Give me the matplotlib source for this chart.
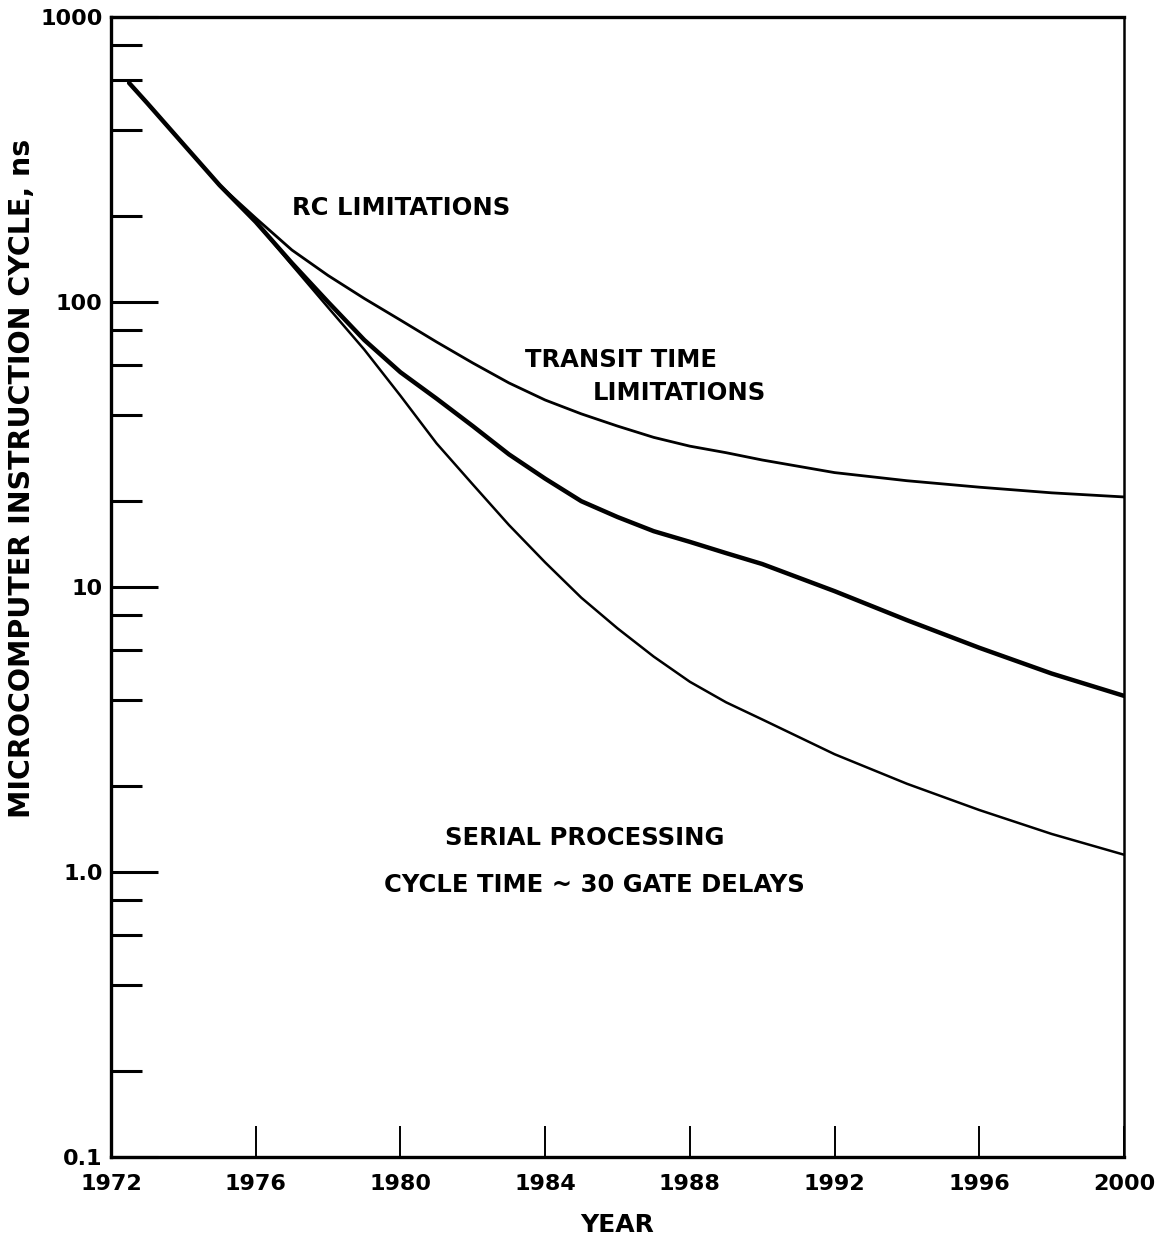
import numpy as np
import matplotlib
matplotlib.use("Agg")
import matplotlib.pyplot as plt
from matplotlib.ticker import FixedLocator, NullFormatter

# Instruction cycle time (ns) versus year for three limiting regimes
years = [1972.5, 1973, 1974, 1975, 1976, 1977, 1978, 1979, 1980, 1981, 1982,
         1983, 1984, 1985, 1986, 1987, 1988, 1989, 1990, 1992, 1994, 1996,
         1998, 2000]
rc_transit = [587, 499, 358, 257, 197, 152.2, 123.9, 102.9, 86.4, 72.4, 61.1,
              52.0, 45.3, 40.5, 36.7, 33.5, 31.2, 29.6, 27.9, 25.2, 23.6,
              22.4, 21.4, 20.7]
intermediate = [587, 499, 358, 257, 191, 137.0, 100, 73.6, 56.7, 45.8, 36.7,
                29.2, 24.0, 20.0, 17.6, 15.7, 14.4, 13.15, 12.04, 9.67, 7.65,
                6.12, 4.97, 4.15]
serial = [587, 499, 358, 257, 191, 134.9, 95.7, 68.1, 46.9, 31.9, 22.9,
          16.5, 12.2, 9.17, 7.16, 5.70, 4.65, 3.94, 3.43, 2.59, 2.04, 1.65,
          1.36, 1.15]

x_ticks = [1972, 1976, 1980, 1984, 1988, 1992, 1996, 2000]
y_major = [0.1, 1.0, 10, 100, 1000]
y_major_labels = ["0.1", "1.0", "10", "100", "1000"]
y_minor = [m * d for d in (0.1, 1, 10, 100) for m in (2, 4, 6, 8)]

W, H = 1168, 1247
fig = plt.figure(figsize=(W / 100, H / 100), dpi=100)
ax = fig.add_axes([111 / W, 1 - 1157 / H, 1013 / W, 1140 / H])

ink = "#000000"
line_kw = dict(color=ink, solid_capstyle="round", solid_joinstyle="round")
ax.plot(years, rc_transit, lw=2.0, **line_kw)
ax.plot(years, intermediate, lw=3.2, **line_kw)
ax.plot(years, serial, lw=1.8, **line_kw)

ax.set_yscale("log")
ax.set_xlim(1972, 2000)
ax.set_ylim(0.1, 1000)

for side in ("left", "bottom", "top"):
    ax.spines[side].set_linewidth(2.4)
ax.spines["right"].set_linewidth(1.8)

ax.yaxis.set_major_locator(FixedLocator(y_major))
ax.set_yticklabels(y_major_labels)
ax.yaxis.set_minor_locator(FixedLocator(y_minor))
ax.yaxis.set_minor_formatter(NullFormatter())
ax.tick_params(axis="y", which="major", direction="in", length=34, width=2.2,
               labelsize=16, pad=6)
ax.tick_params(axis="y", which="minor", direction="in", length=22, width=2.2)

ax.set_xticks(x_ticks)
ax.set_xticklabels([str(t) for t in x_ticks])
ax.tick_params(axis="x", which="major", direction="in", length=22, width=1.4,
               labelsize=16, pad=12)
ax.tick_params(axis="x", which="minor", bottom=False)
for lab in ax.get_xticklabels() + ax.get_yticklabels():
    lab.set_fontweight("bold")

fig.text(617 / W, 1 - 1225 / H, "YEAR", ha="center", va="center",
         fontsize=18, fontweight="bold")
fig.text(22 / W, 1 - 478 / H, "MICROCOMPUTER INSTRUCTION CYCLE, ns",
         rotation=90, ha="center", va="center", fontsize=20.5,
         fontweight="bold")

tkw = dict(fontsize=17.5, fontweight="bold", color=ink, ha="left",
           va="center")
ax.text(1977.0, 214, "RC LIMITATIONS", **tkw)
ax.text(1983.44, 62.6, "TRANSIT TIME", **tkw)
ax.text(1985.32, 48.0, "LIMITATIONS", **tkw)
ax.text(1981.23, 1.316, "SERIAL PROCESSING", **tkw)
ax.text(1979.55, 0.90, "CYCLE TIME ~ 30 GATE DELAYS", **tkw)

fig.savefig("out.png", dpi=100, facecolor="white")
